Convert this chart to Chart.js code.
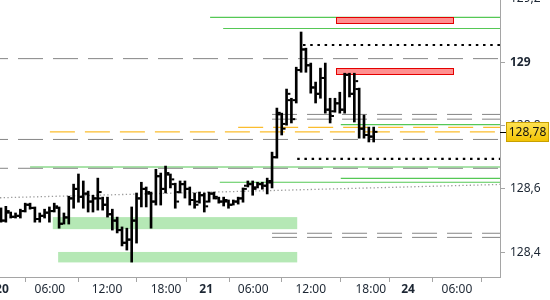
<!DOCTYPE html>
<html>
<head>
<meta charset="utf-8">
<script src="https://cdn.jsdelivr.net/npm/chart.js@4.4.1/dist/chart.umd.min.js"></script>
<style>
  html, body { margin: 0; padding: 0; background: #fff; }
  #wrap { width: 550px; height: 300px; }
</style>
</head>
<body>
<div id="wrap"><canvas id="chart"></canvas></div>
<script>
// 30 min bars, one per index (20th 00:00 -> 21st ~18:30)
const highs = [128.540, 128.545, 128.527, 128.524, 128.536, 128.555, 128.555, 128.543, 128.524, 128.536,
               128.543, 128.555, 128.543, 128.524, 128.577, 128.615, 128.647, 128.625, 128.593, 128.580,
               128.634, 128.574, 128.574, 128.536, 128.511, 128.480, 128.476, 128.543, 128.587, 128.621,
               128.606, 128.590, 128.662, 128.650, 128.672, 128.647, 128.618, 128.625, 128.625, 128.606,
               128.587, 128.590, 128.587, 128.590, 128.590, 128.574, 128.574, 128.565, 128.565, 128.574,
               128.603, 128.625, 128.625, 128.621, 128.621, 128.634, 128.716, 128.855, 128.839, 128.915,
               128.886, 128.984, 129.095, 129.044, 128.997, 128.937, 128.981, 128.997, 128.886, 128.886,
               128.905, 128.965, 128.965, 128.965, 128.918, 128.833, 128.795, 128.795];
const lows = [128.495, 128.495, 128.508, 128.508, 128.508, 128.527, 128.536, 128.495, 128.495, 128.508,
              128.495, 128.527, 128.476, 128.489, 128.489, 128.539, 128.558, 128.539, 128.527, 128.527,
              128.533, 128.533, 128.511, 128.470, 128.461, 128.420, 128.407, 128.369, 128.429, 128.543,
              128.543, 128.476, 128.549, 128.549, 128.587, 128.603, 128.539, 128.587, 128.571, 128.549,
              128.539, 128.555, 128.527, 128.558, 128.568, 128.555, 128.546, 128.539, 128.549, 128.552,
              128.558, 128.606, 128.580, 128.603, 128.599, 128.584, 128.603, 128.697, 128.770, 128.801,
              128.808, 128.871, 128.968, 128.968, 128.902, 128.871, 128.886, 128.839, 128.808, 128.842,
              128.839, 128.839, 128.890, 128.811, 128.760, 128.760, 128.748, 128.748];
const opens = [128.530, 128.500, 128.525, 128.512, 128.515, 128.530, 128.550, 128.540, 128.505, 128.515,
               128.525, 128.530, 128.540, 128.490, 128.510, 128.570, 128.600, 128.575, 128.585, 128.560,
               128.570, 128.570, 128.550, 128.520, 128.500, 128.470, 128.430, 128.440, 128.500, 128.570,
               128.600, 128.585, 128.560, 128.640, 128.600, 128.645, 128.615, 128.590, 128.615, 128.600,
               128.565, 128.560, 128.580, 128.560, 128.585, 128.570, 128.560, 128.560, 128.550, 128.560,
               128.570, 128.610, 128.615, 128.605, 128.615, 128.610, 128.620, 128.700, 128.835, 128.805,
               128.880, 128.880, 128.975, 129.040, 128.990, 128.920, 128.900, 128.950, 128.850, 128.845,
               128.870, 128.850, 128.960, 128.900, 128.915, 128.790, 128.770, 128.765];
const closes = [128.500, 128.530, 128.512, 128.515, 128.530, 128.550, 128.540, 128.505, 128.515, 128.525,
                128.530, 128.545, 128.490, 128.510, 128.570, 128.600, 128.575, 128.585, 128.560, 128.570,
                128.590, 128.550, 128.520, 128.500, 128.470, 128.430, 128.440, 128.500, 128.570, 128.600,
                128.590, 128.560, 128.640, 128.600, 128.650, 128.630, 128.560, 128.615, 128.600, 128.565,
                128.550, 128.580, 128.545, 128.585, 128.575, 128.560, 128.565, 128.550, 128.560, 128.570,
                128.600, 128.615, 128.600, 128.615, 128.610, 128.625, 128.700, 128.840, 128.790, 128.900,
                128.820, 128.975, 129.040, 128.990, 128.920, 128.900, 128.950, 128.850, 128.830, 128.870,
                128.850, 128.960, 128.900, 128.940, 128.790, 128.770, 128.765, 128.780];

const xTickPos = [0.2, 10.1, 21.9, 34.1, 42.4, 52.1, 64, 76.4, 84.1, 94.2];
const xTickLabels = ['20', '06:00', '12:00', '18:00', '21', '06:00', '12:00', '18:00', '24', '06:00'];
const yTickValues = [128.4, 128.6, 128.8, 129, 129.2];

// levels: [price, first bar]
const greenLevels = [[129.141, 43.2], [129.106, 45.9], [128.803, 70.2], [128.669, 6], [128.633, 70.2], [128.621, 45.2]];
const grayDashLevels = [[129.011, -0.21], [128.835, 56], [128.820, 56], [128.756, -0.21], [128.665, -0.21], [128.460, 56], [128.447, 56]];
const orangeLevels = [[128.794, 49], [128.780, 10.1]];
const blackDotLevels = [[129.054, 62.4], [128.695, 61.2]];
const trendLine = [[-0.21, 128.572], [103.1, 128.614]];
// zones: [from bar, to bar, low, high]
const redZones = [[69.2, 93.4, 129.123, 129.142], [69.2, 93.4, 128.962, 128.981]];
const greenZones = [[10.7, 61.2, 128.473, 128.511], [11.8, 61.2, 128.368, 128.401]];
const lastPrice = 128.78;

const X_MIN = -0.21, X_MAX = 103.1;
const FONT = 'Noto Sans';

function levelLine(lvl, color, width, dash, dashOffset) {
    return {
        type: 'line',
        data: [{ x: lvl[1], y: lvl[0] }, { x: X_MAX, y: lvl[0] }],
        borderColor: color,
        borderWidth: width,
        borderDash: dash,
        borderDashOffset: dashOffset,
        pointRadius: 0,
        fill: false,
        order: 10
    };
}

const datasets = [];
grayDashLevels.forEach(l => datasets.push(levelLine(l, '#858585', 1, [25, 10], l[1] < 0 ? 17 : 0)));
orangeLevels.forEach(l => datasets.push(levelLine(l, '#fbbd2e', 1.3, [25, 10], 0)));
greenLevels.forEach(l => datasets.push(levelLine(l, '#55c855', 1.2, [], 0)));
blackDotLevels.forEach(l => datasets.push(levelLine(l, '#000', 2.2, [2.5, 4.7], 0)));
datasets.push({
    type: 'line',
    data: trendLine.map(p => ({ x: p[0], y: p[1] })),
    borderColor: '#9a9a9a',
    borderWidth: 1.3,
    borderDash: [1.3, 2.4],
    pointRadius: 0,
    order: 10
});

const barIndex = datasets.length;
datasets.push({
    type: 'bar',
    data: highs.map((h, k) => ({ x: k, y: [lows[k], h] })),
    backgroundColor: '#000',
    barThickness: 2,
    grouped: false,
    order: 2
});
datasets.push({
    type: 'line',
    data: opens.map((o, k) => ({ x: k - 0.5, y: o })),
    showLine: false,
    pointStyle: 'line',
    pointRadius: 1.4,
    pointBorderWidth: 2,
    pointBorderColor: '#000',
    order: 1
});
datasets.push({
    type: 'line',
    data: closes.map((c, k) => ({ x: k + 0.5, y: c })),
    showLine: false,
    pointStyle: 'line',
    pointRadius: 1.4,
    pointBorderWidth: 2,
    pointBorderColor: '#000',
    order: 1
});

const zonesPlugin = {
    id: 'zones',
    beforeDatasetDraw(chart, args) {
        if (args.index !== barIndex) return;
        const x = chart.scales.x, y = chart.scales.y, ctx = chart.ctx;
        ctx.save();
        greenZones.forEach(z => {
            ctx.fillStyle = '#b5e8b5';
            ctx.fillRect(x.getPixelForValue(z[0]), y.getPixelForValue(z[3]),
                x.getPixelForValue(z[1]) - x.getPixelForValue(z[0]), y.getPixelForValue(z[2]) - y.getPixelForValue(z[3]));
        });
        redZones.forEach(z => {
            const x0 = Math.round(x.getPixelForValue(z[0])) + 0.5, x1 = Math.round(x.getPixelForValue(z[1])) + 0.5;
            const y0 = Math.round(y.getPixelForValue(z[3])) + 0.5, y1 = Math.round(y.getPixelForValue(z[2])) + 0.5;
            ctx.fillStyle = '#ff9090';
            ctx.fillRect(x0, y0, x1 - x0, y1 - y0);
            ctx.strokeStyle = '#e40000';
            ctx.lineWidth = 1;
            ctx.strokeRect(x0, y0, x1 - x0, y1 - y0);
        });
        ctx.restore();
    },
    afterDraw(chart) {
        // last price label on the price axis
        const y = chart.scales.y, ctx = chart.ctx;
        const py = Math.round(y.getPixelForValue(lastPrice));
        const left = y.left + 6, w = 43, h = 20;
        ctx.save();
        ctx.strokeStyle = '#000';
        ctx.lineWidth = 1;
        ctx.beginPath();
        ctx.moveTo(y.left, py + 0.5);
        ctx.lineTo(left, py + 0.5);
        ctx.stroke();
        const g = ctx.createLinearGradient(0, py - h / 2, 0, py + h / 2);
        g.addColorStop(0, '#ffe455');
        g.addColorStop(1, '#f2c200');
        ctx.fillStyle = g;
        ctx.fillRect(left, py - h / 2, w, h);
        ctx.strokeStyle = '#c8a000';
        ctx.strokeRect(left + 0.5, py - h / 2 + 0.5, w - 1, h - 1);
        ctx.fillStyle = '#111';
        ctx.font = '12px "' + FONT + '"';
        ctx.textAlign = 'center';
        ctx.textBaseline = 'middle';
        ctx.fillText(lastPrice.toFixed(2).replace('.', ','), left + w / 2, py + 1);
        ctx.restore();
    }
};

// keep the plot area flush with the canvas edges, labels may be cut like in the terminal
function noPadding(scale) {
    scale.paddingLeft = 0;
    scale.paddingRight = 0;
    scale.paddingTop = 0;
    scale.paddingBottom = 0;
}

new Chart(document.getElementById('chart'), {
    type: 'line',
    data: { datasets: datasets },
    plugins: [zonesPlugin],
    options: {
        responsive: true,
        maintainAspectRatio: false,
        animation: false,
        events: [],
        layout: { padding: 0, autoPadding: false },
        plugins: { legend: { display: false }, tooltip: { enabled: false } },
        scales: {
            x: {
                type: 'linear',
                min: X_MIN,
                max: X_MAX,
                offset: false,
                afterBuildTicks: (scale) => { scale.ticks = xTickPos.map(v => ({ value: v })); },
                afterFit: (scale) => { scale.height = 23; noPadding(scale); },
                grid: { drawOnChartArea: false, drawTicks: true, tickLength: 5, color: '#a5a5a5' },
                border: { display: true, color: '#a5a5a5' },
                ticks: {
                    autoSkip: false,
                    maxRotation: 0,
                    padding: 0,
                    color: '#1c2633',
                    font: (ctx) => ({ family: FONT, size: 12, weight: (xTickLabels[ctx.index] || '').length <= 2 ? 'bold' : 'normal' }),
                    callback: (value, index) => xTickLabels[index]
                }
            },
            y: {
                type: 'linear',
                position: 'right',
                min: 128.322,
                max: 129.196,
                afterBuildTicks: (scale) => { scale.ticks = yTickValues.map(v => ({ value: v })); },
                afterFit: (scale) => { scale.width = 50; noPadding(scale); },
                grid: { drawOnChartArea: false, drawTicks: true, tickLength: 5, color: '#a5a5a5' },
                border: { display: true, color: '#a5a5a5' },
                ticks: {
                    padding: 5,
                    color: '#1c2633',
                    font: (ctx) => ({ family: FONT, size: 12, weight: ctx.tick && Number.isInteger(ctx.tick.value) ? 'bold' : 'normal' }),
                    callback: (value) => String(value).replace('.', ',')
                }
            }
        }
    }
});
</script>
</body>
</html>
